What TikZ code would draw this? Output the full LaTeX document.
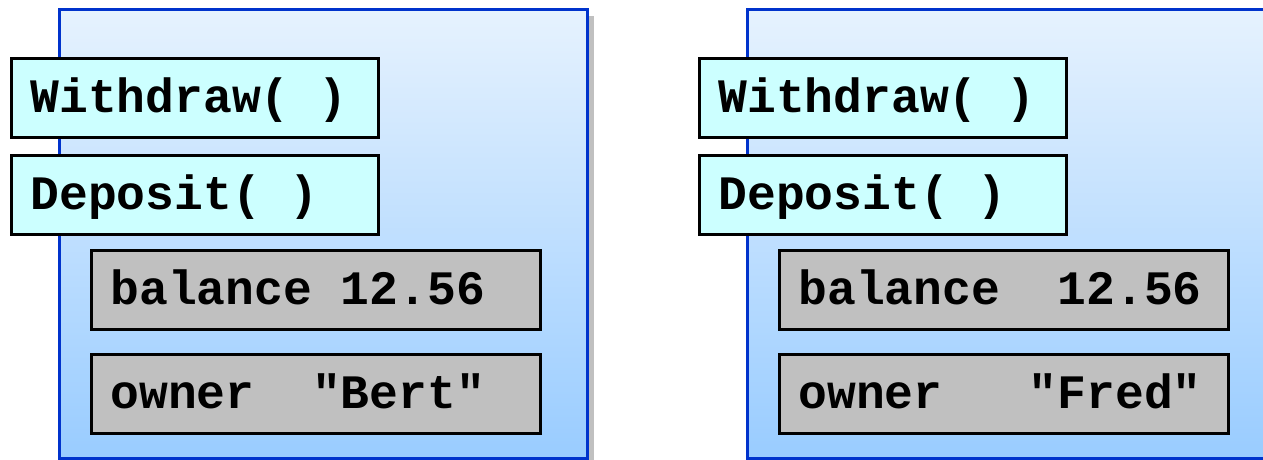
\documentclass[tikz,border=0pt]{standalone}
\usepackage{fontspec}
\newfontfamily\codefont{Liberation Mono}
\definecolor{panelTop}{HTML}{E6F2FE}
\definecolor{panelBot}{HTML}{99CCFF}
\definecolor{panelEdge}{HTML}{0033CC}
\definecolor{methodFill}{HTML}{CCFFFF}
\definecolor{fieldFill}{HTML}{C0C0C0}
\definecolor{shadowGray}{HTML}{C0C0C0}
% one fixed-pitch blank, as wide as a glyph cell
\newcommand\cell{\hspace*{0.6em}}

\begin{document}
\begin{tikzpicture}[x=1pt,y=-1pt,
  panelshadow/.style={fill=shadowGray, minimum width=528pt, minimum height=449pt,
    anchor=north west, inner sep=0pt},
  panel/.style={panelshadow, shade, top color=panelTop, bottom color=panelBot,
    draw=panelEdge, line width=2.6pt},
  method/.style={fill=methodFill, draw=black, line width=2.8pt, anchor=north west,
    minimum height=79pt, text width=329pt, inner xsep=19pt, align=left,
    font=\codefont\bfseries\fontsize{48}{50}\selectfont,
    text height=30pt, text depth=0pt},
  field/.style={method, fill=fieldFill, text width=411pt},
]
\useasboundingbox (0,0) rectangle (1263,460);
\clip (0,0) rectangle (1263,460);

% first account object
\node[panelshadow] (shadowA) at (66,16) {};
\node[panel] (objA) at (58,8) {};
\node[method] (withdrawA) at (10,57)  {Withdraw(\cell)};
\node[method] (depositA)  at (10,154) {Deposit(\cell)};
\node[field]  (balanceA)  at (90,249) {balance\cell 12.56};
\node[field]  (ownerA)    at (90,353) {owner\cell\cell"Bert"};

% second account object
\node[panelshadow] (shadowB) at (754,16) {};
\node[panel] (objB) at (746,8) {};
\node[method] (withdrawB) at (698,57)  {Withdraw(\cell)};
\node[method] (depositB)  at (698,154) {Deposit(\cell)};
\node[field]  (balanceB)  at (778,249) {balance\cell\cell 12.56};
\node[field]  (ownerB)    at (778,353) {owner\cell\cell\cell"Fred"};
\end{tikzpicture}
\end{document}
